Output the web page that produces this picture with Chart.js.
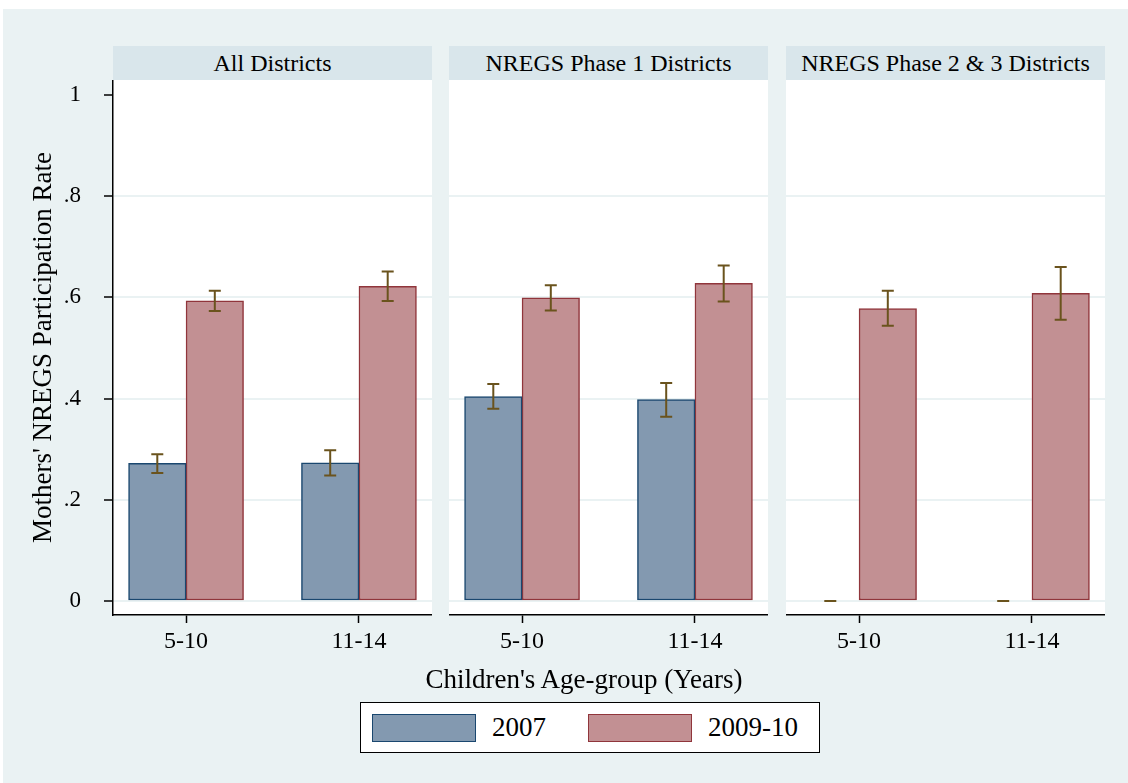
<!DOCTYPE html>
<html>
<head>
<meta charset="utf-8">
<script src="https://cdn.jsdelivr.net/npm/chart.js@4.4.1/dist/chart.umd.min.js"></script>
<style>
    body { margin: 0; background: #fff; font-family: 'Liberation Serif', 'Times New Roman', serif; }
    #page { position: relative; width: 1128px; height: 783px; overflow: hidden; background: #fff; }
    #bg { position: absolute; left: 3px; top: 9px; right: 0; bottom: 0; background: #eaf2f3; }
    .strip { position: absolute; top: 46px; height: 34px; width: 319px; background: #d9e6eb; text-align: center; line-height: 34px; font-size: 24px; color: #000; white-space: nowrap; }
    canvas { position: absolute; top: 80px; }
    #xTitle { position: absolute; left: 284px; width: 600px; top: 664px; line-height: 30px; text-align: center; font-size: 27px; color: #000; }
    #legend { position: absolute; left: 360px; top: 702px; width: 460px; height: 51px; box-sizing: border-box; background: #fff; border: 1.5px solid #000; }
    .swatch { position: absolute; top: 11px; width: 104px; height: 28px; box-sizing: border-box; border: 1.5px solid; }
    .ltext { position: absolute; top: 0; line-height: 48px; font-size: 27px; color: #000; }
</style>
</head>
<body>
<div id="page">
    <div id="bg"></div>
    <div id="strips"></div>
    <canvas id="panel0" width="432" height="585" style="left:0px"></canvas>
    <canvas id="panel1" width="319" height="585" style="left:449px"></canvas>
    <canvas id="panel2" width="319" height="585" style="left:786px"></canvas>
    <div id="xTitle">Children's Age-group (Years)</div>
    <div id="legend"></div>
</div>
<script>
// datos
const ageGroups = ['5-10', '11-14'];
const panelNames = ['All Districts', 'NREGS Phase 1 Districts', 'NREGS Phase 2 & 3 Districts'];
const seriesNames = ['2007', '2009-10'];

const rate2007 = [[0.272, 0.273], [0.404, 0.398], [0, 0]];
const rate2009 = [[0.593, 0.622], [0.599, 0.628], [0.578, 0.608]];
const low2007  = [[0.253, 0.248], [0.380, 0.364], [0, 0]];
const high2007 = [[0.290, 0.298], [0.429, 0.431], [0, 0]];
const low2009  = [[0.573, 0.593], [0.574, 0.592], [0.544, 0.556]];
const high2009 = [[0.613, 0.651], [0.624, 0.663], [0.613, 0.660]];

const yTicks = [0, 0.2, 0.4, 0.6, 0.8, 1];
const yTickLabels = ['0', '.2', '.4', '.6', '.8', '1'];

const fills = ['#8399b0', '#c29093'];
const borders = ['#1a476f', '#90353b'];
const errColor = '#6a531d';

Chart.defaults.font.family = "'Liberation Serif', 'Times New Roman', serif";
Chart.defaults.color = '#000';

// Tiras de titulo
const panelLefts = [113, 449, 786];
document.getElementById('strips').innerHTML = panelNames.map((n, i) =>
    `<div class="strip" style="left:${panelLefts[i]}px">${n}</div>`).join('');

// Leyenda
const legendLefts = [11, 227];
document.getElementById('legend').innerHTML = seriesNames.map((s, i) =>
    `<div class="swatch" style="left:${legendLefts[i]}px;background:${fills[i]};border-color:${borders[i]}"></div>` +
    `<div class="ltext" style="left:${legendLefts[i] + 120}px">${s}</div>`).join('');

function errorBars(p) {
    const lows = [low2007[p], low2009[p]];
    const highs = [high2007[p], high2009[p]];
    return {
        id: 'errorBars' + p,
        afterDatasetsDraw(chart) {
            const ctx = chart.ctx;
            const y = chart.scales.y;
            ctx.save();
            ctx.strokeStyle = errColor;
            ctx.lineWidth = 2;
            chart.data.datasets.forEach((ds, d) => {
                chart.getDatasetMeta(d).data.forEach((bar, i) => {
                    const yl = y.getPixelForValue(lows[d][i]);
                    const yh = y.getPixelForValue(highs[d][i]);
                    ctx.beginPath();
                    ctx.moveTo(bar.x, yl); ctx.lineTo(bar.x, yh);
                    ctx.moveTo(bar.x - 6, yl); ctx.lineTo(bar.x + 6, yl);
                    ctx.moveTo(bar.x - 6, yh); ctx.lineTo(bar.x + 6, yh);
                    ctx.stroke();
                });
            });
            ctx.restore();
        }
    };
}

function buildPanel(p) {
    const first = p === 0;
    new Chart(document.getElementById('panel' + p), {
        type: 'bar',
        data: {
            datasets: [
                { label: seriesNames[0], data: rate2007[p].map((v, i) => ({ x: i, y: v })),
                  backgroundColor: fills[0], borderColor: borders[0], borderWidth: 1.5, borderSkipped: false },
                { label: seriesNames[1], data: rate2009[p].map((v, i) => ({ x: i, y: v })),
                  backgroundColor: fills[1], borderColor: borders[1], borderWidth: 1.5, borderSkipped: false }
            ]
        },
        options: {
            responsive: false,
            animation: false,
            devicePixelRatio: 1,
            barThickness: 57.5,
            layout: { padding: 0 },
            scales: {
                x: {
                    type: 'linear',
                    offset: false,
                    min: -0.4225,
                    max: 1.4225,
                    afterBuildTicks: s => { s.ticks = ageGroups.map((a, i) => ({ value: i })); },
                    afterFit: s => { s.height = 50; s.paddingLeft = 0; s.paddingRight = 0; },
                    ticks: { callback: v => ageGroups[v], font: { size: 24 }, padding: 4, maxRotation: 0 },
                    grid: { display: true, offset: false, drawOnChartArea: false, drawTicks: true, tickLength: 8, tickColor: '#000', tickWidth: 1.5 },
                    border: { display: true, color: '#000', width: 1.5 }
                },
                y: {
                    min: -0.0277,
                    max: 1.0296,
                    afterBuildTicks: s => { s.ticks = yTicks.map(v => ({ value: v })); },
                    afterFit: s => { s.width = first ? 113 : 0; s.paddingTop = 0; s.paddingBottom = 0; },
                    ticks: {
                        display: first,
                        callback: v => yTickLabels[yTicks.indexOf(v)],
                        font: { size: 23 },
                        padding: 23
                    },
                    grid: {
                        color: c => (c.tick && c.tick.value === 1) ? 'rgba(0,0,0,0)' : '#eaf2f3',
                        lineWidth: 2,
                        drawTicks: first,
                        tickLength: 9,
                        tickColor: '#000',
                        tickWidth: 1.5
                    },
                    border: { display: first, color: '#000', width: 1.5 },
                    title: {
                        display: first,
                        text: "Mothers' NREGS Participation Rate",
                        font: { size: 27 },
                        padding: { top: 28, bottom: 0 }
                    }
                }
            },
            plugins: {
                legend: { display: false },
                tooltip: { enabled: false }
            }
        },
        plugins: [{
            id: 'plotBg',
            beforeDraw(chart) {
                const a = chart.chartArea;
                chart.ctx.save();
                chart.ctx.fillStyle = '#fff';
                chart.ctx.fillRect(a.left, a.top, a.right - a.left, a.bottom - a.top);
                chart.ctx.restore();
            }
        }, errorBars(p)]
    });
}

[0, 1, 2].forEach(buildPanel);
</script>
</body>
</html>
